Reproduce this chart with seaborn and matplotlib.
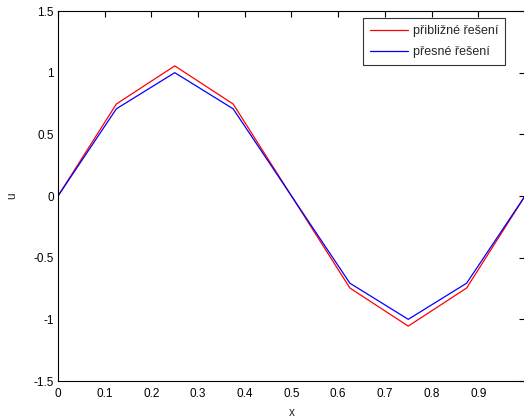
import numpy as np
import pandas as pd
import matplotlib
matplotlib.use("Agg")
import matplotlib.pyplot as plt
import seaborn as sns

# grid nodes and solution values
x = [0.0, 0.125, 0.25, 0.375, 0.5, 0.625, 0.75, 0.875, 1.0]
u_approx = [0.0, 0.746, 1.055, 0.746, 0.0, -0.746, -1.055, -0.746, 0.0]
u_exact = [0.0, 0.707, 1.0, 0.707, 0.0, -0.707, -1.0, -0.707, 0.0]
labels = ["přibližné řešení", "přesné řešení"]
colors = ["#ff0000", "#0000ff"]

df = pd.concat([
    pd.DataFrame({"x": x, "u": u_approx, "řešení": labels[0]}),
    pd.DataFrame({"x": x, "u": u_exact, "řešení": labels[1]}),
])

sns.set_style("white")
plt.rcParams["font.family"] = ["Liberation Sans", "DejaVu Sans"]
plt.rcParams["font.size"] = 8.5

W, H = 524, 418
fig = plt.figure(figsize=(W / 100, H / 100), dpi=100)
ax = fig.add_axes([58 / W, 37 / H, 467 / W, 370 / H])

sns.lineplot(data=df, x="x", y="u", hue="řešení", palette=colors,
             linewidth=0.9, ax=ax, sort=False)

ax.set_xlim(0, 1)
ax.set_ylim(-1.5, 1.5)
ax.set_xticks(np.arange(0, 1.0, 0.1))
ax.set_xticklabels(["0", "0.1", "0.2", "0.3", "0.4", "0.5", "0.6", "0.7", "0.8", "0.9"])
ax.set_yticks([-1.5, -1, -0.5, 0, 0.5, 1, 1.5])
ax.set_yticklabels(["-1.5", "-1", "-0.5", "0", "0.5", "1", "1.5"])
ax.tick_params(direction="in", length=4, width=0.8, top=True, right=True,
               labelsize=8.5, colors="#000000", pad=3)
ax.tick_params(axis="x", pad=5)
for s in ax.spines.values():
    s.set_color("#000000")
    s.set_linewidth(0.8)
ax.set_xlabel("x", fontsize=8.5, labelpad=5)
ax.set_ylabel("u", fontsize=8.5, labelpad=11)

leg = ax.legend(loc="upper right", bbox_to_anchor=((505 - 58) / 467, 1 - 7 / 370),
                frameon=True, fancybox=False, fontsize=9, handlelength=3.0,
                borderpad=0.55, labelspacing=0.75, handletextpad=0.4,
                borderaxespad=0)
leg.get_frame().set_edgecolor("#000000")
leg.get_frame().set_linewidth(0.8)
leg.set_title(None)

fig.savefig("out.png", dpi=100)
